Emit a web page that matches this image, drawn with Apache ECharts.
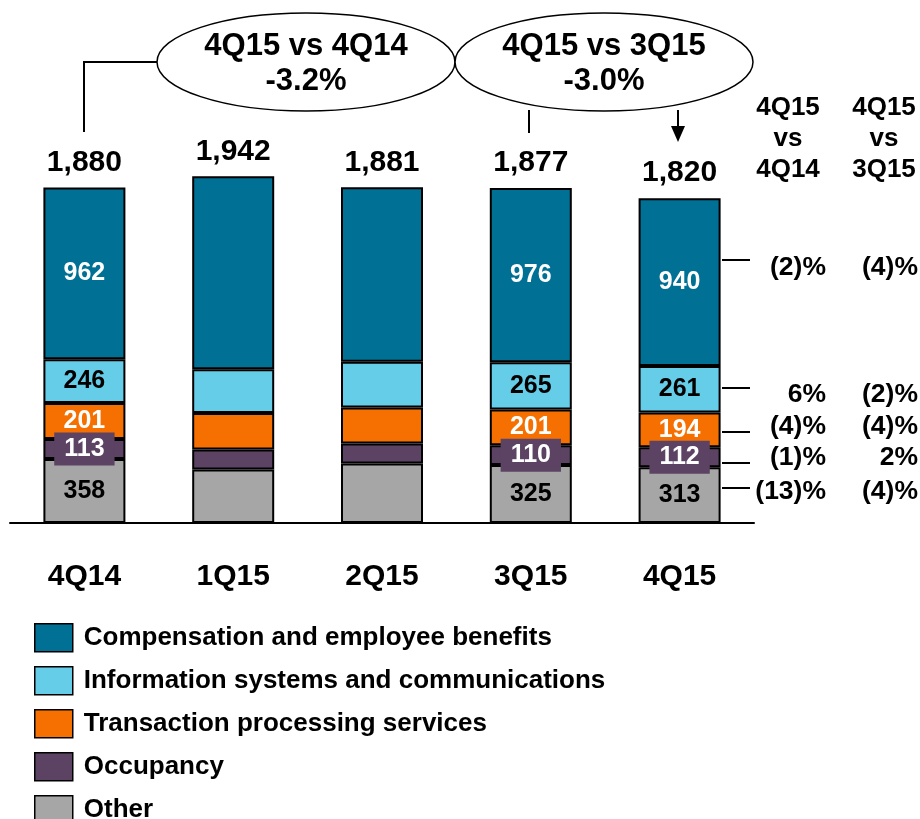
<!DOCTYPE html>
<html>
<head>
<meta charset="utf-8">
<script src="https://cdn.jsdelivr.net/npm/echarts@6/dist/echarts.min.js"></script>
<style>
  html, body { margin: 0; padding: 0; background: #fff; }
  #chart { width: 920px; height: 819px; }
</style>
</head>
<body>
<div id="chart"></div>
<script>
const quarters = ['4Q14', '1Q15', '2Q15', '3Q15', '4Q15']
const totals = [1880, 1942, 1881, 1877, 1820]

// bottom-up stack order
const other = [358, 300, 333, 325, 313]
const occupancy = [113, 112, 112, 110, 112]
const transaction = [201, 204, 202, 201, 194]
const infoSystems = [246, 245, 257, 265, 261]
const compensation = [962, 1081, 977, 976, 940]

const labeled = [true, false, false, true, true]

// legend order top -> bottom, with the 4Q15 change columns
const legendNames = [
  'Compensation and employee benefits',
  'Information systems and communications',
  'Transaction processing services',
  'Occupancy',
  'Other'
]
const pctVs4Q14 = ['(2)%', '6%', '(4)%', '(1)%', '(13)%']
const pctVs3Q15 = ['(4)%', '(2)%', '(4)%', '2%', '(4)%']

const FONT = '"Liberation Sans", Arial, sans-serif'

const colors = {
  comp: '#007095',
  info: '#66cde9',
  trans: '#f57000',
  occ: '#5c4363',
  other: '#a6a6a6'
}

function seg(name, values, color, labelColor, extraLabel) {
  return {
    name,
    type: 'bar',
    stack: 'total',
    barWidth: 82,
    itemStyle: { color, borderColor: '#000', borderWidth: 2 },
    label: Object.assign({
      show: true,
      position: 'inside',
      color: labelColor,
      fontFamily: FONT,
      fontWeight: 'bold',
      fontSize: 25
    }, extraLabel || {}),
    data: values.map((v, i) => ({ value: v, label: { show: labeled[i] } }))
  }
}

const chart = echarts.init(document.getElementById('chart'))

// annotation rows on the right (pixel y of leader line / text)
const rowLineY = [260, 388, 432, 463, 488]
const rowTextY = [268, 395, 427, 458, 492]

const txt = (x, y, text, size, align, lh) => ({
  type: 'text', x, y,
  style: { text, fontFamily: FONT, fontWeight: 'bold', fontSize: size, lineHeight: lh, align, verticalAlign: 'middle', fill: '#000' }
})

const graphics = [
  { type: 'polyline', shape: { points: [[84, 132], [84, 62], [157, 62]] }, style: { stroke: '#000', lineWidth: 2, fill: null } },
  { type: 'line', shape: { x1: 529, y1: 110, x2: 529, y2: 133 }, style: { stroke: '#000', lineWidth: 2 } },
  { type: 'line', shape: { x1: 678, y1: 110, x2: 678, y2: 128 }, style: { stroke: '#000', lineWidth: 2 } },
  { type: 'polygon', shape: { points: [[671, 126], [685, 126], [678, 142]] }, style: { fill: '#000' } },
  { type: 'ellipse', shape: { cx: 306, cy: 62, rx: 149, ry: 49 }, style: { fill: '#fff', stroke: '#000', lineWidth: 1.5 } },
  { type: 'ellipse', shape: { cx: 604, cy: 62, rx: 149, ry: 49 }, style: { fill: '#fff', stroke: '#000', lineWidth: 1.5 } },
  txt(306, 64, '4Q15 vs 4Q14\n-3.2%', 31, 'center', 35),
  txt(604, 64, '4Q15 vs 3Q15\n-3.0%', 31, 'center', 35),
  txt(788, 139, '4Q15\nvs\n4Q14', 26, 'center', 31),
  txt(884, 139, '4Q15\nvs\n3Q15', 26, 'center', 31)
]
rowLineY.forEach((y, i) => {
  graphics.push({ type: 'line', shape: { x1: 722, y1: y, x2: 750, y2: y }, style: { stroke: '#000', lineWidth: 2 } })
  graphics.push(txt(826, rowTextY[i], pctVs4Q14[i], 26.5, 'right'))
  graphics.push(txt(918, rowTextY[i], pctVs3Q15[i], 26.5, 'right'))
})

chart.setOption({
  animation: false,
  grid: { left: 10, right: 166, top: 166, bottom: 296 },
  legend: {
    data: legendNames,
    orient: 'vertical',
    left: 29,
    top: 618,
    height: 240,
    itemWidth: 38,
    itemHeight: 28,
    itemGap: 13.5,
    icon: 'rect',
    itemStyle: { borderColor: '#000', borderWidth: 1.5 },
    textStyle: { fontFamily: FONT, fontWeight: 'bold', fontSize: 26, color: '#000', padding: [0, 0, 0, 6] },
    selectedMode: false
  },
  xAxis: {
    type: 'category',
    data: quarters,
    axisLine: { lineStyle: { color: '#000', width: 2 } },
    axisTick: { show: false },
    axisLabel: { margin: 39, color: '#000', fontFamily: FONT, fontWeight: 'bold', fontSize: 30 }
  },
  yAxis: { type: 'value', min: 0, max: 2000, show: false },
  series: [
    seg('Other', other, colors.other, '#000'),
    seg('Occupancy', occupancy, colors.occ, '#fff', { backgroundColor: colors.occ, padding: [5, 10, 3, 10] }),
    seg('Transaction processing services', transaction, colors.trans, '#fff'),
    seg('Information systems and communications', infoSystems, colors.info, '#000'),
    seg('Compensation and employee benefits', compensation, colors.comp, '#fff'),
    {
      name: 'Total',
      type: 'bar',
      barWidth: 82,
      barGap: '-100%',
      itemStyle: { color: 'rgba(0,0,0,0)' },
      label: { show: true, position: 'top', distance: 10, color: '#000', fontFamily: FONT, fontWeight: 'bold', fontSize: 30, formatter: p => p.value.toLocaleString('en-US') },
      data: totals,
      z: 1
    }
  ],
  graphic: graphics
})
</script>
</body>
</html>
